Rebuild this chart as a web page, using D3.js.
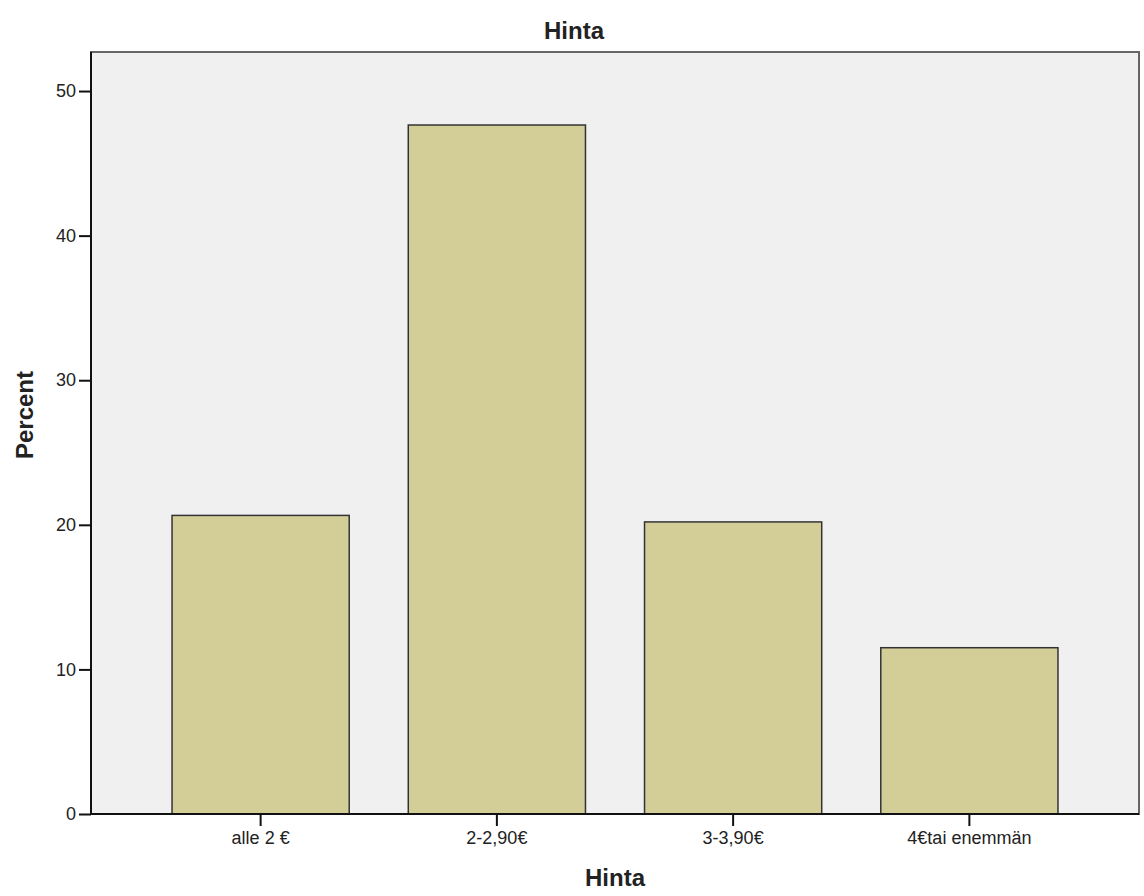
<!DOCTYPE html>
<html>
<head>
<meta charset="utf-8">
<script src="https://cdn.jsdelivr.net/npm/d3@7"></script>
<style>
  body { margin: 0; background: #fff; }
  text { font-family: "Liberation Sans", Arial, sans-serif; fill: #222; }
</style>
</head>
<body>
<svg width="1144" height="896"></svg>
<script>
var categories = ["alle 2 €", "2-2,90€", "3-3,90€", "4€tai enemmän"];
var percents = [20.65, 47.65, 20.2, 11.5];
var yTicks = [0, 10, 20, 30, 40, 50];

var svg = d3.select("svg")
    , width = +svg.attr("width")
    , height = +svg.attr("height")
    , m = {top: 52, right: 5, bottom: 82, left: 91}
    , w = width - m.left - m.right
    , h = height - m.top - m.bottom;

var x = d3.scaleBand().domain(categories).range([0, w]).paddingInner(0.25).paddingOuter(0.343);
var y = d3.scaleLinear().domain([0, 52.7]).range([h, 0]);

var g = svg.append("g").attr("transform", "translate(" + m.left + "," + m.top + ")");

g.append("rect").attr("width", w).attr("height", h)
    .attr("fill", "#f0f0f0").attr("stroke", "#666").attr("stroke-width", 2);

g.selectAll(".bar").data(percents).enter().append("rect")
    .attr("class", "bar")
    .attr("x", function (d, i) { return x(categories[i]); })
    .attr("y", function (d) { return y(d); })
    .attr("width", x.bandwidth())
    .attr("height", function (d) { return h - y(d); })
    .attr("fill", "#d3ce98")
    .attr("stroke", "#333")
    .attr("stroke-width", 1.5);

var yAxis = g.append("g").call(d3.axisLeft(y).tickValues(yTicks).tickSize(12).tickPadding(3));
var xAxis = g.append("g").attr("transform", "translate(0," + h + ")")
    .call(d3.axisBottom(x).tickSize(12).tickPadding(5));

[yAxis, xAxis].forEach(function (a) {
    a.select(".domain").attr("stroke", "#111").attr("stroke-width", 2);
    a.selectAll(".tick line").attr("stroke", "#111").attr("stroke-width", 2);
    a.selectAll("text").style("font-family", "'Liberation Sans', Arial, sans-serif")
        .style("font-size", "18px").attr("fill", "#222");
});
xAxis.select(".domain").attr("d", "M0,0H" + w);
yAxis.select(".domain").attr("d", "M0,0V" + h);

svg.append("text").attr("x", 574).attr("y", 39).attr("text-anchor", "middle")
    .style("font-size", "24px").style("font-weight", "bold").text("Hinta");
svg.append("text").attr("x", m.left + w / 2).attr("y", 886).attr("text-anchor", "middle")
    .style("font-size", "24px").style("font-weight", "bold").text("Hinta");
svg.append("text").attr("transform", "translate(33," + (m.top + h / 2 - 18) + ") rotate(-90)")
    .attr("text-anchor", "middle")
    .style("font-size", "24px").style("font-weight", "bold").text("Percent");
</script>
</body>
</html>
